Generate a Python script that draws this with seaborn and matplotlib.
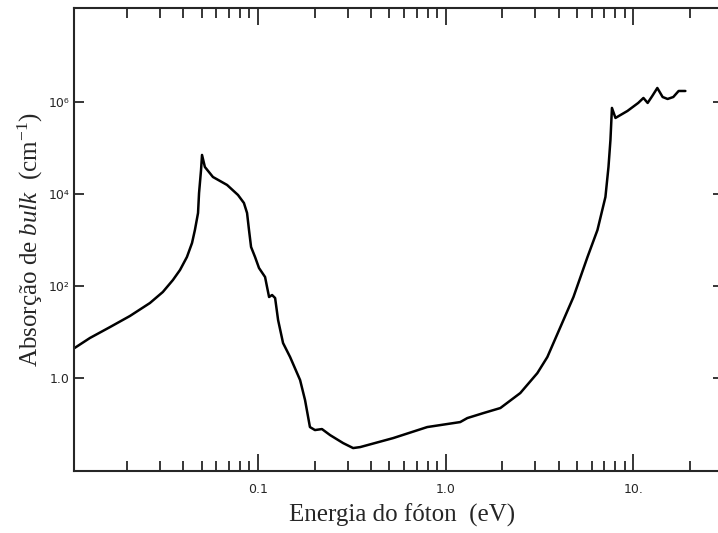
import matplotlib
matplotlib.use("Agg")
import matplotlib.pyplot as plt
import matplotlib.ticker as mticker
import seaborn as sns
import pandas as pd

# photon energy (eV) and bulk absorption (cm^-1)
energy = [0.01045, 0.01271, 0.01626, 0.02077, 0.02655, 0.0311, 0.0352, 0.0384,
          0.0418, 0.0445, 0.0461, 0.0479, 0.0485, 0.0497, 0.0503,
          0.0521, 0.0575, 0.0684, 0.0782, 0.0841, 0.0874, 0.0895, 0.0918,
          0.0964, 0.1012, 0.1090, 0.1117, 0.1145, 0.1188, 0.1233, 0.1279,
          0.1359, 0.1482, 0.1675, 0.178, 0.189, 0.201, 0.219, 0.242, 0.284,
          0.321, 0.350, 0.525, 0.797, 0.936, 1.194, 1.303, 1.585, 1.954,
          2.495, 3.076, 3.477, 4.08, 4.79, 5.69, 6.43, 7.09, 7.36, 7.54, 7.68,
          8.02, 9.29, 10.6, 11.3, 11.9, 12.6, 13.4, 14.3, 15.2, 16.3, 17.4, 18.9]
absorption = [4.4, 7.41, 12.8, 22.3, 42.7, 74.1, 135, 223,
              427, 861, 1650, 3860, 10500, 33200, 70500,
              38600, 23400, 15700, 9510, 6370, 3860, 1650, 705,
              427, 246, 157, 95, 57.7, 63.7, 54.8, 18.2,
              5.77, 2.86, 0.905, 0.332, 0.0861, 0.0741, 0.0779, 0.0576, 0.0386,
              0.0301, 0.0316, 0.0496, 0.0861, 0.0951, 0.1105, 0.135, 0.173, 0.223,
              0.472, 1.28, 2.86, 12.8, 57.7, 427, 1650, 8610, 38600, 149000, 741000,
              449000, 637000, 951000, 1.22e6, 951000, 1.35e6, 2.01e6, 1.28e6, 1.16e6,
              1.28e6, 1.73e6, 1.73e6]

x_ticks = [0.1, 1.0, 10.0]
x_tick_labels = ["0.1", "1.0", "10."]
y_ticks = [1.0, 1e2, 1e4, 1e6]
y_tick_labels = ["1.0", "10²", "10⁴", "10⁶"]

df = pd.DataFrame({"energy": energy, "absorption": absorption})

sns.set_style("ticks")
plt.rcParams["font.family"] = ["DejaVu Sans"]
plt.rcParams["mathtext.fontset"] = "custom"
plt.rcParams["mathtext.rm"] = "Liberation Serif"
plt.rcParams["mathtext.it"] = "Liberation Serif:italic"

fig = plt.figure(figsize=(7.18, 5.33), dpi=100)
ax = fig.add_axes([0.1024, 0.1169, 0.9046, 0.8681])

sns.lineplot(x="energy", y="absorption", data=df, sort=False, estimator=None,
             color="black", linewidth=1.8, ax=ax)

ax.set_xscale("log")
ax.set_yscale("log")
ax.set_xlim(0.0104, 30)
ax.set_ylim(0.0097, 1.1e8)

ax.xaxis.set_major_locator(mticker.FixedLocator(x_ticks))
ax.xaxis.set_major_formatter(mticker.FixedFormatter(x_tick_labels))
ax.xaxis.set_minor_locator(mticker.LogLocator(base=10, subs=range(2, 10), numticks=20))
ax.xaxis.set_minor_formatter(mticker.NullFormatter())
ax.yaxis.set_major_locator(mticker.FixedLocator(y_ticks))
ax.yaxis.set_major_formatter(mticker.FixedFormatter(y_tick_labels))
ax.yaxis.set_minor_locator(mticker.NullLocator())

ax.tick_params(axis="x", which="major", direction="in", length=12, width=1.3,
               top=True, bottom=True, pad=9, labelsize=9)
ax.tick_params(axis="x", which="minor", direction="in", length=7, width=1.3,
               top=True, bottom=True)
ax.tick_params(axis="y", which="major", direction="in", length=7, width=1.3,
               left=True, right=True, pad=3, labelsize=9)

for side in ["left", "top", "bottom"]:
    ax.spines[side].set_linewidth(1.5)
ax.spines["right"].set_visible(False)
ax.set_xlabel("")
ax.set_ylabel("")

fig.text(402 / 718, 1 - 515 / 533, "Energia do fóton  (eV)", ha="center", va="center",
         fontsize=18, family="Liberation Serif")
fig.text(30 / 718, 1 - 240 / 533, r"Absorção de $\mathit{bulk}$  (cm$^{\mathrm{-1}}$)",
         ha="center", va="center", rotation=90, fontsize=18, family="Liberation Serif")

fig.savefig("out.png", dpi=100)
